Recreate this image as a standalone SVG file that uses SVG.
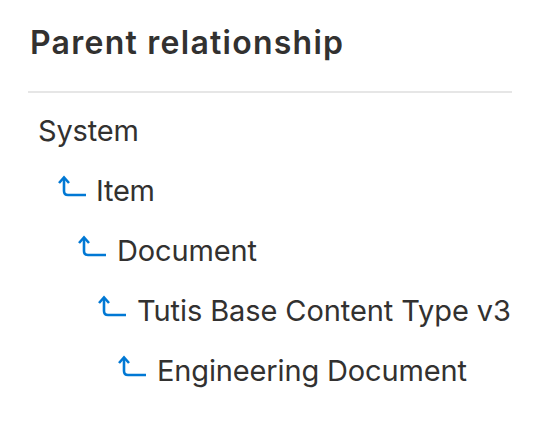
<svg xmlns="http://www.w3.org/2000/svg" width="540" height="424" viewBox="0 0 540 424">
<defs>
<style>
.t{font-family:Inter,"Liberation Sans",sans-serif;font-size:29px;fill:#323130}
.h{font-family:Inter,"Liberation Sans",sans-serif;font-size:32px;font-weight:600;fill:#323130}
.a{fill:none;stroke:#0078d4;stroke-width:2.6;stroke-linecap:butt;stroke-linejoin:miter}
</style>
<g id="arrow">
<path class="a" d="M0,1 V14 Q0,18 4,18 H22"/>
<path class="a" d="M-5,6 L0,0.5 L5,6"/>
</g>
</defs>
<rect width="540" height="424" fill="#fff"/>
<text class="h" x="30" y="54" textLength="313" lengthAdjust="spacing">Parent relationship</text>
<line x1="28" y1="92" x2="512" y2="92" stroke="#e6e6e6" stroke-width="2"/>
<g id="system"><text class="t" x="38" y="141" textLength="101" lengthAdjust="spacing">System</text></g>
<g id="connectors">
<use href="#arrow" x="64" y="177"/>
<use href="#arrow" x="84" y="237"/>
<use href="#arrow" x="104" y="297"/>
<use href="#arrow" x="124" y="357"/>
</g>
<g id="item"><text class="t" x="96" y="201" textLength="59" lengthAdjust="spacing">Item</text></g>
<g id="document"><text class="t" x="117" y="261" textLength="140" lengthAdjust="spacing">Document</text></g>
<g id="tutis"><text class="t" x="137" y="321" textLength="374" lengthAdjust="spacing">Tutis Base Content Type v3</text></g>
<g id="engineering"><text class="t" x="157" y="381" textLength="310" lengthAdjust="spacing">Engineering Document</text></g>
</svg>
